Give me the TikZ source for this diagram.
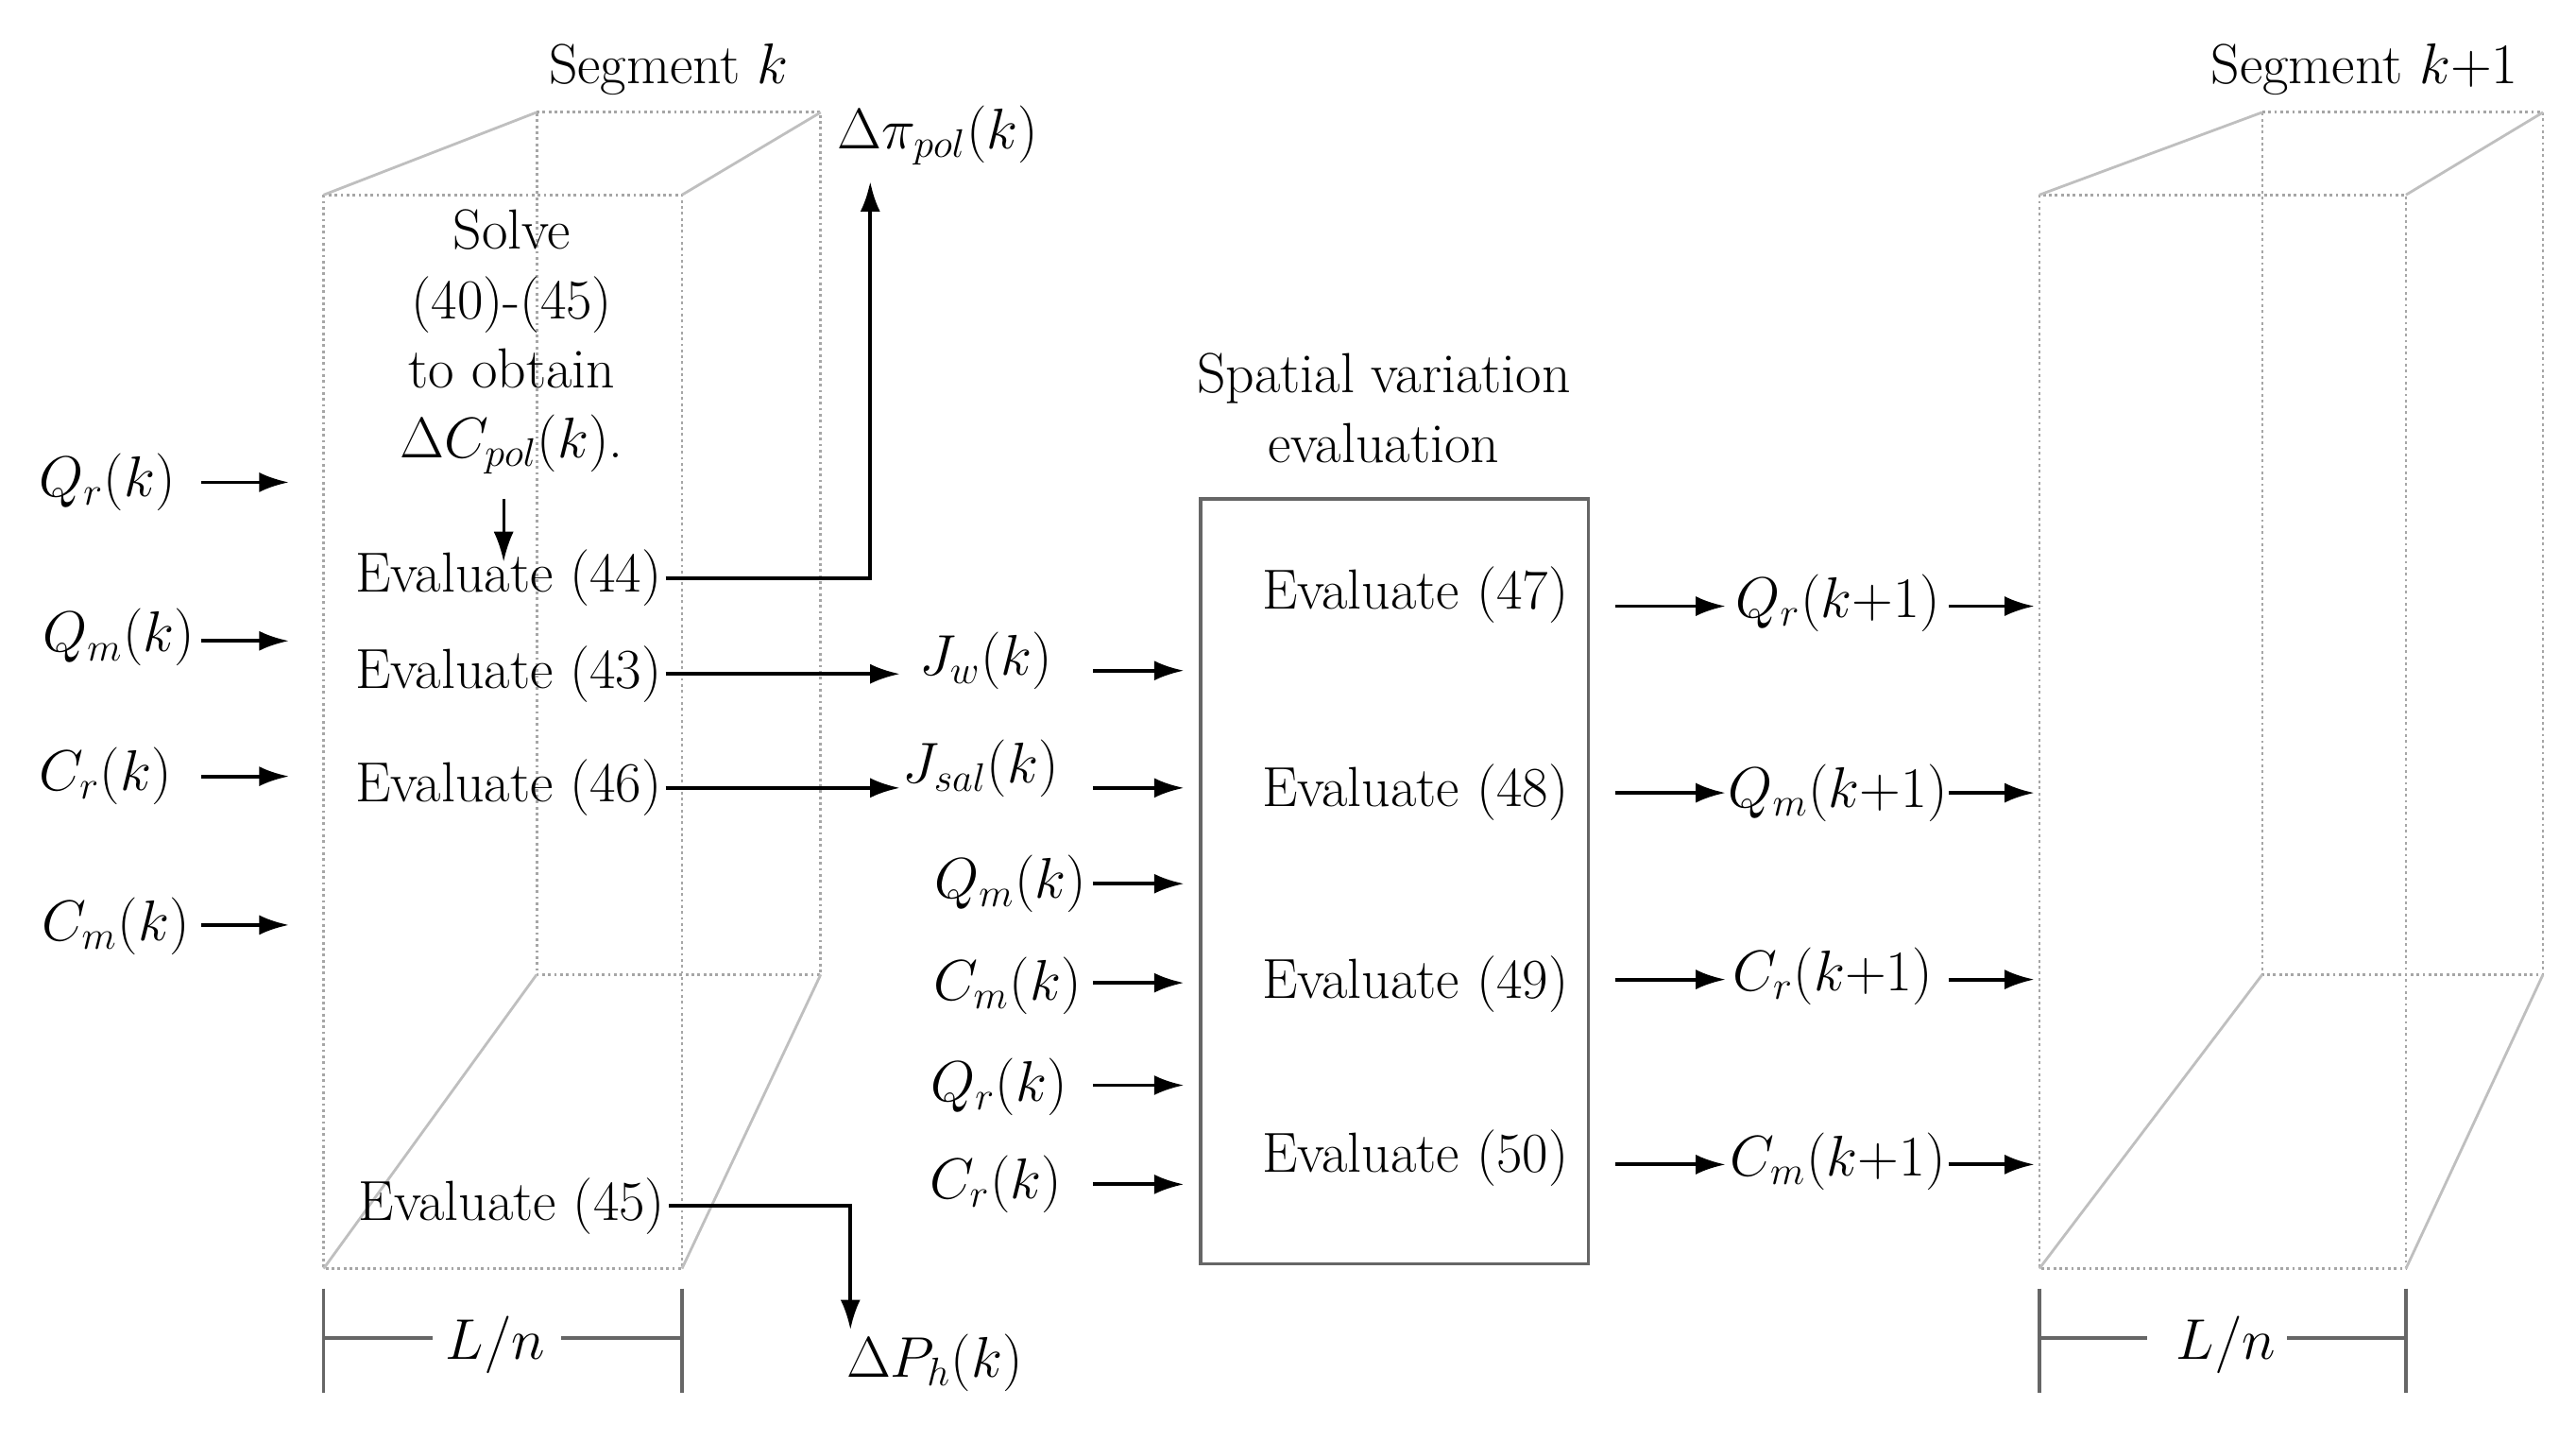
\documentclass[tikz,border=0pt]{standalone}
\usetikzlibrary{arrows.meta}
\begin{document}
\begin{tikzpicture}[x=0.01748cm,y=-0.01748cm,
  txt/.style={font=\fontsize{17}{21}\selectfont,inner sep=1pt,align=center},
  arr/.style={-{Latex[length=9pt,width=6pt]},line width=1.1pt},
  ln/.style={line width=1pt},
  dot/.style={gray!70,densely dotted,line width=0.8pt},
  edge/.style={gray!50,line width=0.8pt}]
\useasboundingbox (0,0) rectangle (1560,872);
% left box
\draw[dot] (196,118) rectangle (413,768);
\draw[dot] (325,68) -- (497,68) -- (497,590) -- (325,590) -- cycle;
\draw[edge] (196,118) -- (325,68) (413,118) -- (497,68) (196,768) -- (325,590) (413,768) -- (497,590);
% right box
\draw[dot] (1235,118) rectangle (1457,768);
\draw[dot] (1370,68) -- (1540,68) -- (1540,590) -- (1370,590) -- cycle;
\draw[edge] (1235,118) -- (1370,68) (1457,118) -- (1540,68) (1235,768) -- (1370,590) (1457,768) -- (1540,590);
% dims
\draw[ln,gray!80!black] (196,780)--(196,843) (413,780)--(413,843) (196,810)--(262,810) (340,810)--(413,810);
\node[txt] (d1) at (300,814) {$L/n$};
\draw[ln,gray!80!black] (1235,780)--(1235,843) (1457,780)--(1457,843) (1235,810)--(1300,810) (1385,810)--(1457,810);
\node[txt] (d2) at (1348,814) {$L/n$};
\node[txt] (s1) at (405,42) {Segment $k$};
\node[txt] (s2) at (1432,42) {Segment $k{+}1$};
% inside left
\node[txt] (sol) at (310,207) {Solve\\(40)-(45)\\to obtain\\$\Delta C_{pol}(k)$.};
\node[txt] (e44) at (308,350) {Evaluate (44)};
\node[txt] (e43) at (308,408) {Evaluate (43)};
\node[txt] (e46) at (308,477) {Evaluate (46)};
\node[txt] (e45) at (310,730) {Evaluate (45)};
\coordinate (a1) at (305,302); \coordinate (a2) at (305,340);
\draw[arr,line width=0.8pt] (a1) -- (a2);
\node[txt] (dpi) at (568,82) {$\Delta\pi_{pol}(k)$};
\coordinate (pu) at (527,110);
\draw[arr] (e44.east) -| (pu);
\node[txt] (jw) at (597,400) {$J_w(k)$};
\node[txt] (js) at (594,465) {$J_{sal}(k)$};
\coordinate (jwe) at (545,408); \coordinate (jse) at (545,477);
\draw[arr] (e43.east) -- (jwe);
\draw[arr] (e46.east) -- (jse);
\node[txt] (dph) at (566,825) {$\Delta P_h(k)$};
\coordinate (pd) at (515,805);
\draw[arr] (e45.east) -| (pd);
% left inputs
\node[txt] (iqr) at (65,292) {$Q_r(k)$};
\node[txt] (iqm) at (72,386) {$Q_m(k)$};
\node[txt] (icr) at (64,470) {$C_r(k)$};
\node[txt] (icm) at (70,561) {$C_m(k)$};
\draw[arr] (122,292) -- (175,292);
\draw[arr] (122,388) -- (175,388);
\draw[arr] (122,470) -- (175,470);
\draw[arr] (122,560) -- (175,560);
% middle inputs
\node[txt] (mqm) at (612,535) {$Q_m(k)$};
\node[txt] (mcm) at (610,597) {$C_m(k)$};
\node[txt] (mqr) at (605,658) {$Q_r(k)$};
\node[txt] (mcr) at (603,717) {$C_r(k)$};
\foreach \y in {406,477,535,595,657,717} \draw[arr] (662,\y) -- (717,\y);
% middle box
\node[draw,ln,gray!80!black,minimum width=235*0.01748cm,minimum height=463*0.01748cm] (mid) at (844.5,533.5) {};
\node[txt] (mt) at (838,247) {Spatial variation\\evaluation};
\node[txt] (e47) at (857,360) {Evaluate (47)};
\node[txt] (e48) at (857,480) {Evaluate (48)};
\node[txt] (e49) at (857,596) {Evaluate (49)};
\node[txt] (e50) at (857,701) {Evaluate (50)};
% outputs
\node[txt] (oqr) at (1113,365) {$Q_r(k{+}1)$};
\node[txt] (oqm) at (1113,480) {$Q_m(k{+}1)$};
\node[txt] (ocr) at (1110,591) {$C_r(k{+}1)$};
\node[txt] (ocm) at (1113,703) {$C_m(k{+}1)$};
\foreach \y in {367,480,593,705} {\draw[arr] (978,\y) -- (1045,\y); \draw[arr] (1180,\y) -- (1232,\y);}
\end{tikzpicture}
\end{document}
